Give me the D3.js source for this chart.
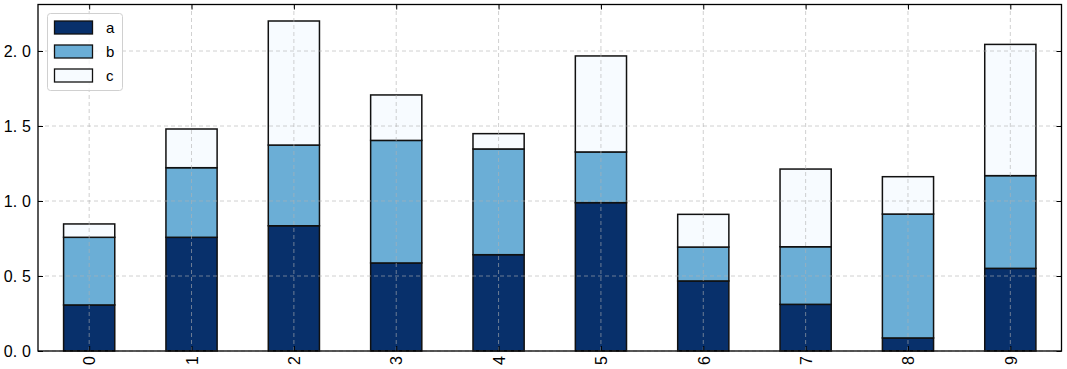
<!DOCTYPE html>
<html><head><meta charset="utf-8">
<script src="https://cdn.jsdelivr.net/npm/d3@7"></script>
<style>body{margin:0;background:#fff}svg{display:block}</style>
</head><body>
<script>
const categories = ["0","1","2","3","4","5","6","7","8","9"];
const seriesA = [0.307, 0.758, 0.835, 0.587, 0.642, 0.989, 0.467, 0.311, 0.087, 0.551];
const seriesB = [0.451, 0.464, 0.538, 0.817, 0.705, 0.338, 0.226, 0.384, 0.826, 0.618];
const seriesC = [0.089, 0.258, 0.827, 0.303, 0.102, 0.640, 0.218, 0.518, 0.249, 0.875];
const seriesNames = ["a","b","c"];
const colors = ["#08306b","#6baed6","#f7fbff"];
const yTicks = [0, 0.5, 1.0, 1.5, 2.0];

(function(){
const W = 1067, H = 369;
const m = {left:38, right:5.5, top:4.5, bottom:18};
const font = "'Liberation Sans', Arial, sans-serif";

const svg = d3.select("body").append("svg").attr("width", W).attr("height", H);

const rows = categories.map((c,i)=>({cat:c, a:seriesA[i], b:seriesB[i], c:seriesC[i]}));
const stack = d3.stack().keys(seriesNames)(rows);
const maxTotal = d3.max(rows, d=>d.a+d.b+d.c);

const x = d3.scaleLinear().domain([-0.5, categories.length-0.5]).range([m.left, W-m.right]);
const y = d3.scaleLinear().domain([0, maxTotal*1.05]).range([H-m.bottom, m.top]);
const bw = x(0.25) - x(-0.25);

const g = svg.append("g");
stack.forEach((s, si) => {
  g.selectAll(null).data(s).enter().append("rect")
    .attr("x", (d,i)=>x(i)-bw/2)
    .attr("y", d=>y(d[1]))
    .attr("width", bw)
    .attr("height", d=>y(d[0])-y(d[1]))
    .attr("fill", colors[si])
    .attr("stroke", "#111")
    .attr("stroke-width", 1.5);
});

const grid = svg.append("g").attr("stroke", "#b0b0b0").attr("stroke-opacity", 0.6)
  .attr("stroke-dasharray", "4,3").attr("stroke-width", 1);
categories.forEach((c,i)=>{
  grid.append("line").attr("x1", x(i)).attr("x2", x(i)).attr("y1", y.range()[0]).attr("y2", y.range()[1]);
});
yTicks.forEach(t=>{
  grid.append("line").attr("x1", x.range()[0]).attr("x2", x.range()[1]).attr("y1", y(t)).attr("y2", y(t));
});

const axB = svg.append("g").attr("transform", `translate(0,${y.range()[0]})`)
  .call(d3.axisBottom(x).tickValues(d3.range(categories.length)).tickFormat(i=>categories[i]).tickSizeInner(-5).tickSizeOuter(0));
axB.selectAll("text").attr("transform", "rotate(-90)").attr("text-anchor", "end")
  .attr("x", -5).attr("y", 0).attr("dy", "0.36em");
const axT = svg.append("g").attr("transform", `translate(0,${y.range()[1]})`)
  .call(d3.axisTop(x).tickValues(d3.range(categories.length)).tickFormat("").tickSizeInner(-5).tickSizeOuter(0));
const axL = svg.append("g").attr("transform", `translate(${x.range()[0]},0)`)
  .call(d3.axisLeft(y).tickValues(yTicks).tickFormat("").tickSizeInner(-5).tickSizeOuter(0));
// y tick labels: wide CJK-style period spacing
axL.selectAll(".tick").each(function(d){
  const s = d3.format(".1f")(d).split(".");
  const t = d3.select(this).append("text").attr("x", -7).attr("dy", "0.36em")
    .attr("text-anchor", "end");
  t.append("tspan").text(s[0] + ".");
  t.append("tspan").attr("dx", 5).text(s[1]);
});
const axR = svg.append("g").attr("transform", `translate(${x.range()[1]},0)`)
  .call(d3.axisRight(y).tickValues(yTicks).tickFormat("").tickSizeInner(-5).tickSizeOuter(0));
[axB, axT, axL, axR].forEach(a=>{
  a.select(".domain").remove();
  a.selectAll("line").attr("stroke", "#000").attr("stroke-width", 1);
  a.selectAll("text").attr("font-family", font).attr("font-size", 16).attr("fill", "#000");
});
svg.append("rect").attr("x", x.range()[0]).attr("y", y.range()[1])
  .attr("width", x.range()[1]-x.range()[0]).attr("height", y.range()[0]-y.range()[1])
  .attr("fill", "none").attr("stroke", "#000").attr("stroke-width", 1.3);

const lg = svg.append("g").attr("transform", "translate(47.5,13.5)");
lg.append("rect").attr("width", 75).attr("height", 77).attr("rx", 3)
  .attr("fill", "#fff").attr("fill-opacity", 0.8).attr("stroke", "#d0d0d0");
seriesNames.forEach((n,i)=>{
  lg.append("rect").attr("x", 7).attr("y", 7.5 + i*24).attr("width", 38).attr("height", 13)
    .attr("fill", colors[i]).attr("stroke", "#111").attr("stroke-width", 1.3);
  lg.append("text").attr("x", 58.5).attr("y", 19.8 + i*23.7)
    .attr("font-family", font).attr("font-size", 15).text(n);
});
})();
</script>
</body></html>
